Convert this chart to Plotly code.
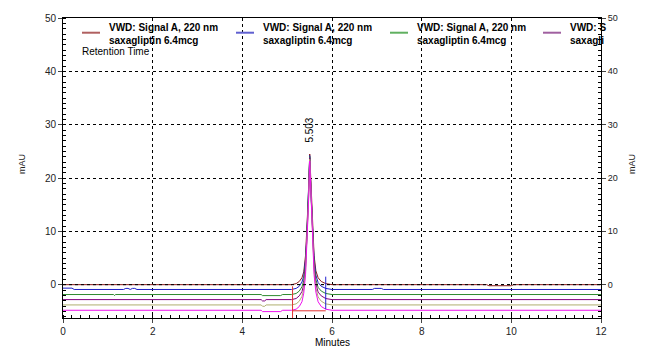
import plotly.graph_objects as go

# ---------------- data ----------------
t_peak = [5.10, 5.20, 5.27, 5.33, 5.37, 5.41, 5.44, 5.475, 5.503, 5.535, 5.57, 5.60, 5.64, 5.69, 5.76, 5.86, 6.00]

brown_t = [0, 4.95, *t_peak, 9.45, 9.5, 10.0, 10.05, 12]
brown_y = [0, 0,
           0, 0.2, 0.6, 1.3, 2.4, 5.5, 10, 17, 24.5, 17, 10, 5.5, 2.6, 1.3, 0.6, 0.2, 0,
           0, -0.2, -0.2, 0, 0]

blue_t = [0, 0.2, 0.25, 1.35, 1.4, 1.45, 1.5, 1.55, 1.6, 1.65, *t_peak, 6.9, 6.95, 7.1, 7.15, 12]
blue_y = [-0.65, -0.65, -0.9, -0.9, -0.7, -0.7, -0.9, -0.7, -0.7, -0.9,
          -0.9, -0.7, -0.3, 0.5, 1.6, 4.8, 9.4, 16.6, 24.2, 16.6, 9.4, 4.8, 1.8, 0.4, -0.3, -0.7, -0.9,
          -0.9, -0.7, -0.7, -0.9, -0.9]

green_t = [0, 1.13, 1.15, 1.17, 4.42, 4.45, 4.85, 4.9, *t_peak, 12]
green_y = [-1.85, -1.85, -2.05, -1.85, -1.85, -2.05, -2.05, -1.85,
           -1.85, -1.65, -1.2, -0.4, 0.8, 4.0, 8.8, 16.2, 24.0, 16.2, 8.8, 4.0, 1.0, -0.5, -1.2, -1.65, -1.85,
           -1.85]

purple_t = [0, 4.42, 4.45, 4.5, 4.53, *t_peak, 12]
purple_y = [-2.8, -2.8, -3.05, -3.05, -2.8,
            -2.8, -2.6, -2.1, -1.3, 0.0, 3.3, 8.2, 15.8, 23.8, 15.8, 8.2, 3.3, 0.2, -1.4, -2.1, -2.6, -2.8,
            -2.8]

olive_t = [0, 4.42, 4.45, 4.5, 4.53, *t_peak, 12]
olive_y = [-3.8, -3.8, -4.05, -4.05, -3.8,
           -3.8, -3.6, -3.1, -2.2, -0.8, 2.6, 7.6, 15.4, 23.5, 15.4, 7.6, 2.6, -0.6, -2.3, -3.1, -3.6, -3.8,
           -3.8]

magenta_t = [0, 4.42, 4.45, 4.85, 4.9, *t_peak, 12]
magenta_y = [-4.8, -4.8, -5.05, -5.05, -4.8,
             -4.8, -4.6, -4.1, -3.2, -1.6, 1.9, 7.0, 15.0, 23.2, 15.0, 7.0, 1.9, -1.4, -3.2, -4.1, -4.6, -4.8,
             -4.8]

series_names = ["brown", "blue", "green", "purple", "olive", "magenta"]
series_t = [brown_t, blue_t, green_t, purple_t, olive_t, magenta_t]
series_y = [brown_y, blue_y, green_y, purple_y, olive_y, magenta_y]
series_colors = ["#8b1c1c", "#1c1cc8", "#2e8b2e", "#800080", "#b0b070", "#ee10ee"]

# integration markers
red_mark_t = [5.12, 5.12, None, 5.12, 5.86]
red_mark_y = [-6.25, -0.3, None, -4.9, -4.9]
blue_mark_t = [5.86, 5.86]
blue_mark_y = [-4.6, 1.5]

peak_rt = 5.503
peak_label = "5.503"

legend_text = "VWD: Signal A, 220 nm<br>saxagliptin 6.4mcg"
legend_text_clipped = "VWD: S<br>saxagli"
legend_colors = ["#b06060", "#6060d0", "#60b060", "#a060a0"]

y_ticks = [0, 10, 20, 30, 40, 50]
x_ticks = [0, 2, 4, 6, 8, 10, 12]

# ---------------- figure ----------------
fig = go.Figure()
for name, t, y, c in zip(series_names, series_t, series_y, series_colors):
    fig.add_trace(go.Scatter(x=t, y=y, mode="lines", line=dict(color=c, width=1),
                             name=name, showlegend=False, hoverinfo="skip"))

fig.add_trace(go.Scatter(x=red_mark_t, y=red_mark_y, mode="lines",
                         line=dict(color="#e03030", width=1), showlegend=False))
fig.add_trace(go.Scatter(x=blue_mark_t, y=blue_mark_y, mode="lines",
                         line=dict(color="#2020d0", width=1), showlegend=False))
# invisible trace to activate right axis
fig.add_trace(go.Scatter(x=[0], y=[0], yaxis="y2", mode="markers",
                         marker=dict(opacity=0), showlegend=False, hoverinfo="skip"))

W, H = 647, 349
L, R, T, B = 63, 46, 16, 27
pw, ph = W - L - R, H - T - B

font_fam = "Liberation Sans, Arial, sans-serif"

axis_common = dict(showline=True, linecolor="black", linewidth=1,
                   gridcolor="black", griddash="3px,3px", gridwidth=1,
                   zeroline=False, tickfont=dict(family=font_fam, size=10, color="#222"))

fig.update_layout(
    width=W, height=H,
    margin=dict(l=L, r=R, t=T, b=B),
    paper_bgcolor="white", plot_bgcolor="white",
    showlegend=False,
    xaxis=dict(range=[0, 12], tickvals=x_ticks, ticks="outside", ticklen=4,
               minor=dict(dtick=0.2, ticks="inside", ticklen=3, tickcolor="black", showgrid=False),
               mirror=True, **axis_common),
    yaxis=dict(range=[-6.25, 50], tickvals=y_ticks, ticks="outside", ticklen=4,
               minor=dict(dtick=1, ticks="inside", ticklen=3, tickcolor="black", showgrid=False),
               **axis_common),
    yaxis2=dict(range=[-6.25, 50], tickvals=y_ticks, ticks="outside", ticklen=4, overlaying="y",
                side="right", showgrid=False,
                minor=dict(dtick=1, ticks="inside", ticklen=3, tickcolor="black"),
                showline=True, linecolor="black", linewidth=1, zeroline=False,
                tickfont=dict(family=font_fam, size=9, color="#222")),
)

# dashed zero line on top
fig.add_shape(type="line", xref="x", yref="y", x0=0, x1=12, y0=0, y1=0,
              line=dict(color="black", width=1, dash="3px,3px"), layer="above")

# legend (manual, clipped at right edge like the original)
leg_x_px = [82, 236, 390, 543]
for i, (xp, c) in enumerate(zip(leg_x_px, legend_colors)):
    fig.add_shape(type="line", xref="paper", yref="paper",
                  x0=(xp - L) / pw, x1=(xp + 18 - L) / pw,
                  y0=1 - (31 - T) / ph, y1=1 - (31 - T) / ph,
                  line=dict(color=c, width=2))
    txt = legend_text if i < 3 else legend_text_clipped
    fig.add_annotation(xref="paper", yref="paper", x=(xp + 25 - L) / pw, y=1 - (18 - T) / ph,
                       xanchor="left", yanchor="top", align="left", showarrow=False,
                       text="<b>" + txt + "</b>",
                       font=dict(family=font_fam, size=10, color="black"))

fig.add_annotation(xref="paper", yref="paper", x=(80 - L) / pw, y=1 - (50 - T) / ph,
                   xanchor="left", yanchor="middle", showarrow=False,
                   text="Retention Time", font=dict(family=font_fam, size=10, color="black"))

# peak label
fig.add_annotation(x=peak_rt, y=26.3, xref="x", yref="y", text=peak_label, textangle=-90,
                   xanchor="center", yanchor="bottom", showarrow=False,
                   font=dict(family=font_fam, size=10, color="black"))

# axis titles
fig.add_annotation(xref="paper", yref="paper", x=(15 - L) / pw, y=1 - (165 - T) / ph,
                   text="mAU", textangle=-90, showarrow=False,
                   font=dict(family=font_fam, size=9, color="#222"))
fig.add_annotation(xref="paper", yref="paper", x=(639 - L) / pw, y=1 - (165 - T) / ph,
                   text="mAU", textangle=-90, showarrow=False,
                   font=dict(family=font_fam, size=9, color="#222"))
fig.add_annotation(xref="paper", yref="paper", x=0.5, y=-(347 - T - ph) / ph,
                   yanchor="middle", text="Minutes", showarrow=False,
                   font=dict(family=font_fam, size=10, color="black"))

fig.write_html("out.html")
